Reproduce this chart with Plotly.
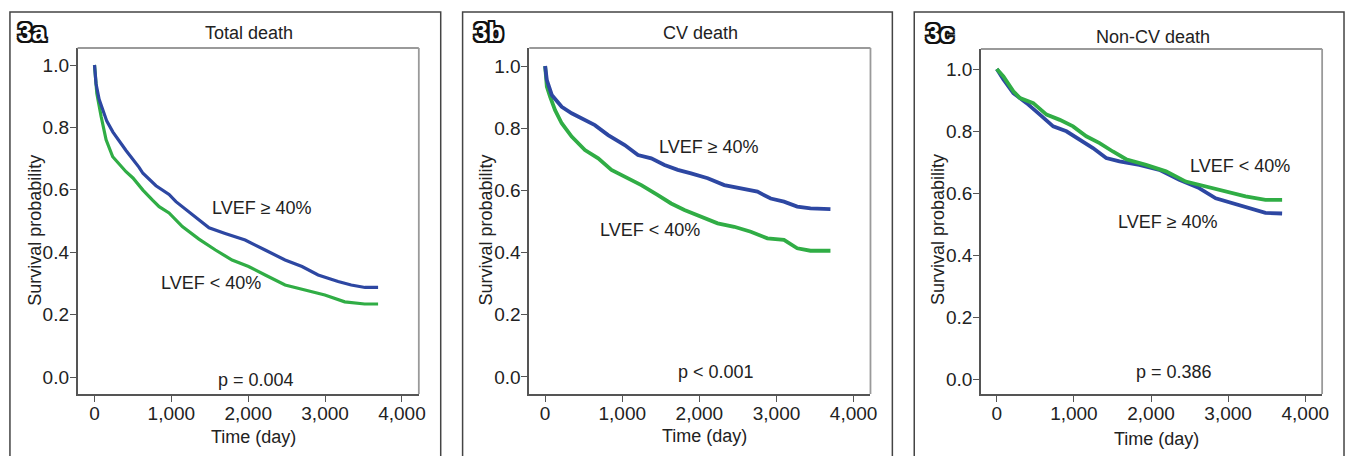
import plotly.graph_objects as go

W, H = 1354, 456

# ---------------- data ----------------
panel_labels = ["3a", "3b", "3c"]
panel_titles = ["Total death", "CV death", "Non-CV death"]
p_texts = ["p = 0.004", "p < 0.001", "p = 0.386"]
series_names = ["LVEF ≥ 40%", "LVEF < 40%"]

a_hi_t = [0, 20, 60, 110, 160, 240, 370, 410, 580, 630, 800, 970, 1060, 1140, 1360, 1490, 1700, 1960, 2220, 2480, 2700, 2910, 3170, 3340, 3520, 3690]
a_hi_s = [1.0, 0.94, 0.89, 0.856, 0.82, 0.785, 0.738, 0.726, 0.672, 0.653, 0.613, 0.585, 0.562, 0.546, 0.503, 0.478, 0.46, 0.439, 0.407, 0.375, 0.354, 0.327, 0.306, 0.295, 0.287, 0.287]
a_lo_t = [0, 30, 87, 151, 237, 323, 410, 500, 630, 755, 841, 970, 1057, 1143, 1359, 1574, 1790, 2005, 2221, 2480, 2739, 2997, 3256, 3515, 3690]
a_lo_s = [1.0, 0.909, 0.834, 0.76, 0.706, 0.682, 0.658, 0.638, 0.599, 0.567, 0.546, 0.526, 0.503, 0.482, 0.442, 0.407, 0.375, 0.354, 0.327, 0.295, 0.279, 0.263, 0.241, 0.234, 0.234]

b_hi_t = [0, 22, 86, 215, 344, 516, 645, 817, 1032, 1204, 1376, 1548, 1720, 1892, 2108, 2323, 2538, 2753, 2925, 3097, 3269, 3441, 3700]
b_hi_s = [1.0, 0.955, 0.907, 0.869, 0.848, 0.826, 0.810, 0.778, 0.746, 0.714, 0.703, 0.682, 0.666, 0.655, 0.639, 0.617, 0.607, 0.596, 0.574, 0.564, 0.548, 0.542, 0.540]
b_lo_t = [0, 22, 65, 129, 215, 344, 516, 688, 860, 1032, 1247, 1462, 1634, 1806, 2022, 2237, 2452, 2667, 2882, 3097, 3269, 3441, 3700]
b_lo_s = [1.0, 0.934, 0.901, 0.858, 0.816, 0.773, 0.730, 0.703, 0.666, 0.644, 0.617, 0.585, 0.558, 0.537, 0.516, 0.494, 0.483, 0.467, 0.446, 0.441, 0.414, 0.406, 0.406]

c_hi_t = [0, 86, 215, 387, 559, 731, 903, 1075, 1247, 1419, 1591, 1849, 2108, 2366, 2624, 2839, 3054, 3269, 3484, 3700]
c_hi_s = [1.0, 0.966, 0.922, 0.890, 0.853, 0.815, 0.799, 0.772, 0.745, 0.713, 0.702, 0.691, 0.675, 0.643, 0.616, 0.583, 0.567, 0.551, 0.536, 0.534]
c_lo_t = [0, 86, 215, 301, 473, 645, 817, 989, 1161, 1333, 1505, 1677, 1935, 2194, 2452, 2710, 2968, 3226, 3484, 3700]
c_lo_s = [1.0, 0.976, 0.928, 0.906, 0.890, 0.853, 0.836, 0.815, 0.783, 0.761, 0.734, 0.709, 0.691, 0.670, 0.637, 0.621, 0.605, 0.589, 0.578, 0.578]

x_ticks = [0, 1000, 2000, 3000, 4000]
y_ticks = [0.0, 0.2, 0.4, 0.6, 0.8, 1.0]

# label positions (data coords) for the group labels and p values
label_pos = [
    {"hi": (2173, 0.542), "lo": (1513, 0.301), "p": (2095, -0.01)},
    {"hi": (2129, 0.741), "lo": (1355, 0.473), "p": (2215, 0.017)},
    {"hi": (2215, 0.508), "lo": (3148, 0.686), "p": (2301, 0.024)},
]

# ---------------- styling / geometry ----------------
BLUE = "#2d47a2"
GREEN = "#30ad45"
FONT = "Liberation Sans, Arial, sans-serif"
TXT = "#222222"

# plot areas in pixels: (left, right, top, bottom)
plot_px = [(78, 421, 48, 394), (532, 875, 48, 394), (986, 1329, 49, 394)]
x_ranges = [[-220, 4220], [-206, 4219], [-206, 4219]]
y_ranges = [[-0.0545, 1.0545], [-0.0547, 1.058], [-0.048, 1.0645]]
outer_px = [(10, 443), (465, 897), (919, 1351)]
label_px = [(33, 32), (491, 32), (945, 33)]
title_y_px = [33, 33, 37]
ytitle_x_px = [35, 489, 943]
xtitle_y_px = [437, 436, 439]

data = [(a_hi_t, a_hi_s, a_lo_t, a_lo_s),
        (b_hi_t, b_hi_s, b_lo_t, b_lo_s),
        (c_hi_t, c_hi_s, c_lo_t, c_lo_s)]
widths = [3.2, 3.8, 3.8]

fig = go.Figure()
layout = dict(width=W, height=H, margin=dict(l=0, r=0, t=0, b=0),
              paper_bgcolor="white", plot_bgcolor="white", showlegend=False,
              font=dict(family=FONT, color=TXT))
shapes = []
annotations = []

for i in range(3):
    sfx = "" if i == 0 else str(i + 1)
    xa, ya = "x" + sfx, "y" + sfx
    l, r, t, b = plot_px[i]
    hi_t, hi_s, lo_t, lo_s = data[i]
    order = [("lo", lo_t, lo_s, GREEN), ("hi", hi_t, hi_s, BLUE)]
    if i == 2:
        order = order[::-1]
    for key, tt, ss, col in order:
        fig.add_trace(go.Scatter(x=tt, y=ss, mode="lines", xaxis=xa, yaxis=ya,
                                 line=dict(color=col, width=widths[i]),
                                 name=series_names[0] if key == "hi" else series_names[1]))
    axis_common = dict(showgrid=False, zeroline=False, showline=True,
                       linecolor="#555555", linewidth=1.5, ticks="outside",
                       ticklen=6, tickwidth=1.3, tickcolor="#555555",
                       tickfont=dict(size=19, family=FONT, color=TXT))
    layout["xaxis" + sfx] = dict(axis_common, domain=[l / W, r / W],
                                 range=x_ranges[i], anchor=ya,
                                 tickvals=x_ticks, tickformat=",d",
                                 ticklabelstandoff=-5)
    layout["yaxis" + sfx] = dict(axis_common, domain=[1 - b / H, 1 - t / H],
                                 range=y_ranges[i], anchor=xa,
                                 tickvals=y_ticks, tickformat=".1f",
                                 ticklabelstandoff=-3)
    # light frame on top and right
    shapes.append(dict(type="line", xref=xa + " domain", yref=ya + " domain",
                       x0=0, x1=1, y0=1, y1=1, line=dict(color="#9a9a9a", width=1.8)))
    shapes.append(dict(type="line", xref=xa + " domain", yref=ya + " domain",
                       x0=1, x1=1, y0=0, y1=1, line=dict(color="#9a9a9a", width=1.8)))
    # outer panel box
    ox0, ox1 = outer_px[i]
    shapes.append(dict(type="rect", xref="paper", yref="paper",
                       x0=ox0 / W, x1=ox1 / W, y0=-0.05, y1=1 - 12 / H,
                       line=dict(color="#444444", width=1.5), fillcolor="rgba(0,0,0,0)"))
    # panel label
    lx, ly = label_px[i]
    annotations.append(dict(text=panel_labels[i], xref="paper", yref="paper",
                            x=lx / W, y=1 - ly / H, showarrow=False,
                            xanchor="center", yanchor="middle",
                            font=dict(size=25, family=FONT, color="white", weight="bold",
                                      shadow="2px 0 0 #111, -2px 0 0 #111, 0 2px 0 #111, 0 -2px 0 #111, "
                                             "2px 2px 0 #111, -2px -2px 0 #111, 2px -2px 0 #111, -2px 2px 0 #111")))
    # title
    annotations.append(dict(text=panel_titles[i], xref="paper", yref="paper",
                            x=((l + r) / 2 + 1) / W, y=1 - title_y_px[i] / H, showarrow=False,
                            xanchor="center", yanchor="middle",
                            font=dict(size=18, family=FONT, color=TXT)))
    # axis titles
    annotations.append(dict(text="Time (day)", xref="paper", yref="paper",
                            x=((l + r) / 2 + 5) / W, y=1 - xtitle_y_px[i] / H, showarrow=False,
                            xanchor="center", yanchor="middle",
                            font=dict(size=18, family=FONT, color=TXT)))
    annotations.append(dict(text="Survival probability", xref="paper", yref="paper",
                            x=ytitle_x_px[i] / W, y=1 - 230 / H, showarrow=False,
                            textangle=-90, xanchor="center", yanchor="middle",
                            font=dict(size=18, family=FONT, color=TXT)))
    # series labels & p value
    lp = label_pos[i]
    for key, txt in (("hi", series_names[0]), ("lo", series_names[1]), ("p", p_texts[i])):
        px_, py_ = lp[key]
        annotations.append(dict(text=txt, xref=xa, yref=ya, x=px_, y=py_,
                                showarrow=False, xanchor="center", yanchor="middle",
                                font=dict(size=18, family=FONT, color=TXT)))

layout["shapes"] = shapes
layout["annotations"] = annotations
fig.update_layout(**layout)
fig.write_html("out.html")
